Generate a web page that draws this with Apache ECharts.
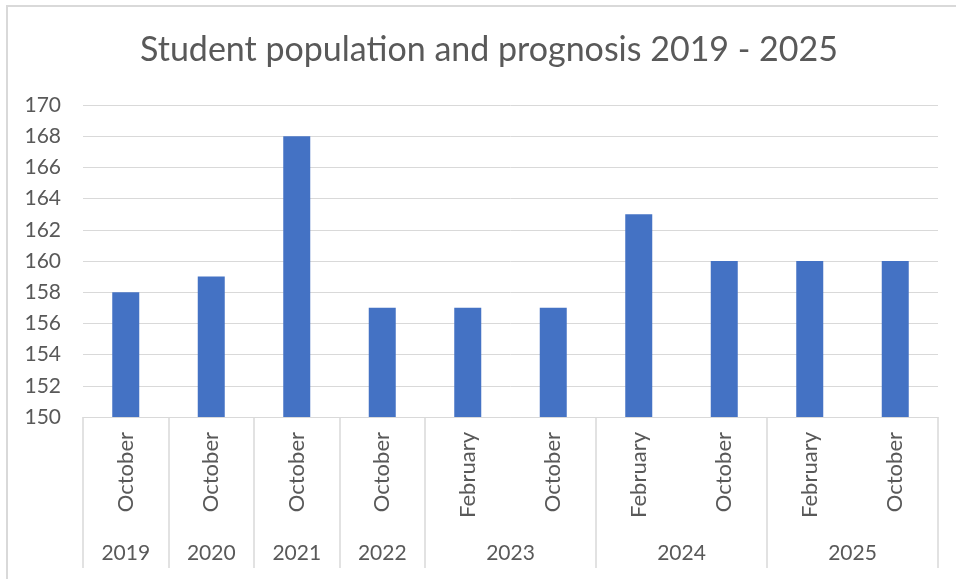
<!DOCTYPE html>
<html>
<head>
<meta charset="utf-8">
<script src="https://cdn.jsdelivr.net/npm/echarts@6/dist/echarts.min.js"></script>
<style>
  html, body { margin: 0; padding: 0; background: #ffffff; }
  #chart { width: 956px; height: 579px; }
</style>
</head>
<body>
<div id="chart"></div>
<script>
// Student counts per census month, with the year each month belongs to
const months = ['October', 'October', 'October', 'October', 'February', 'October', 'February', 'October', 'February', 'October'];
const years = ['2019', '2020', '2021', '2022', '2023', '2023', '2024', '2024', '2025', '2025'];
const students = [158, 159, 168, 157, 157, 157, 163, 160, 160, 160];
const yTicks = { min: 150, max: 170, step: 2 };

// Group consecutive months by year for the second-level axis
const groups = [];
years.forEach((y, i) => {
  const last = groups[groups.length - 1];
  if (last && last.year === y) last.count++;
  else groups.push({ year: y, start: i, count: 1 });
});
const boundaries = [0].concat(groups.map(g => g.start + g.count));
const centers = groups.map(g => g.start + g.count / 2);
const yearAt = v => {
  const g = groups.find(g => Math.abs(g.start + g.count / 2 - v) < 1e-6);
  return g ? g.year : '';
};

const TEXT = '#595959';
const LINE = '#D9D9D9';
const FONT = 'Lato';

const chart = echarts.init(document.getElementById('chart'), null, { renderer: 'canvas' });
chart.setOption({
  animation: false,
  backgroundColor: '#ffffff',
  textStyle: { fontFamily: FONT },
  title: {
    text: 'Student population and prognosis 2019 - 2025',
    left: 484,
    top: 28,
    textAlign: 'center',
    textStyle: { color: TEXT, fontSize: 34, fontWeight: 'normal', fontFamily: FONT }
  },
  graphic: [{
    type: 'polyline',
    shape: { points: [[7, 600], [7, 6], [970, 6]] },
    style: { stroke: LINE, lineWidth: 2, fill: null },
    silent: true
  }],
  grid: { left: 83, right: 18, top: 105, bottom: 162, containLabel: false },
  xAxis: [{
    type: 'category',
    data: months,
    position: 'bottom',
    axisLine: { show: true, lineStyle: { color: LINE, width: 1 } },
    axisTick: { show: false },
    axisLabel: { rotate: 90, margin: 15, fontSize: 22, color: TEXT, fontFamily: FONT, interval: 0 },
    splitLine: { show: false }
  }, {
    type: 'value',
    min: 0,
    max: years.length,
    position: 'bottom',
    axisLine: { show: false },
    axisTick: {
      show: true,
      customValues: boundaries,
      length: 151,
      lineStyle: { color: LINE, width: 1.5 }
    },
    axisLabel: {
      customValues: centers,
      formatter: v => yearAt(v),
      margin: 126,
      fontSize: 21,
      color: TEXT,
      fontFamily: FONT
    },
    splitLine: { show: false }
  }],
  yAxis: {
    type: 'value',
    min: yTicks.min,
    max: yTicks.max,
    interval: yTicks.step,
    axisLine: { show: false },
    axisTick: { show: false },
    axisLabel: { fontSize: 21, color: TEXT, margin: 22, fontFamily: FONT },
    splitLine: { lineStyle: { color: LINE, width: 1 } }
  },
  series: [{
    type: 'bar',
    xAxisIndex: 0,
    data: students,
    barWidth: 27,
    itemStyle: { color: '#4472C4' }
  }]
});
</script>
</body>
</html>
